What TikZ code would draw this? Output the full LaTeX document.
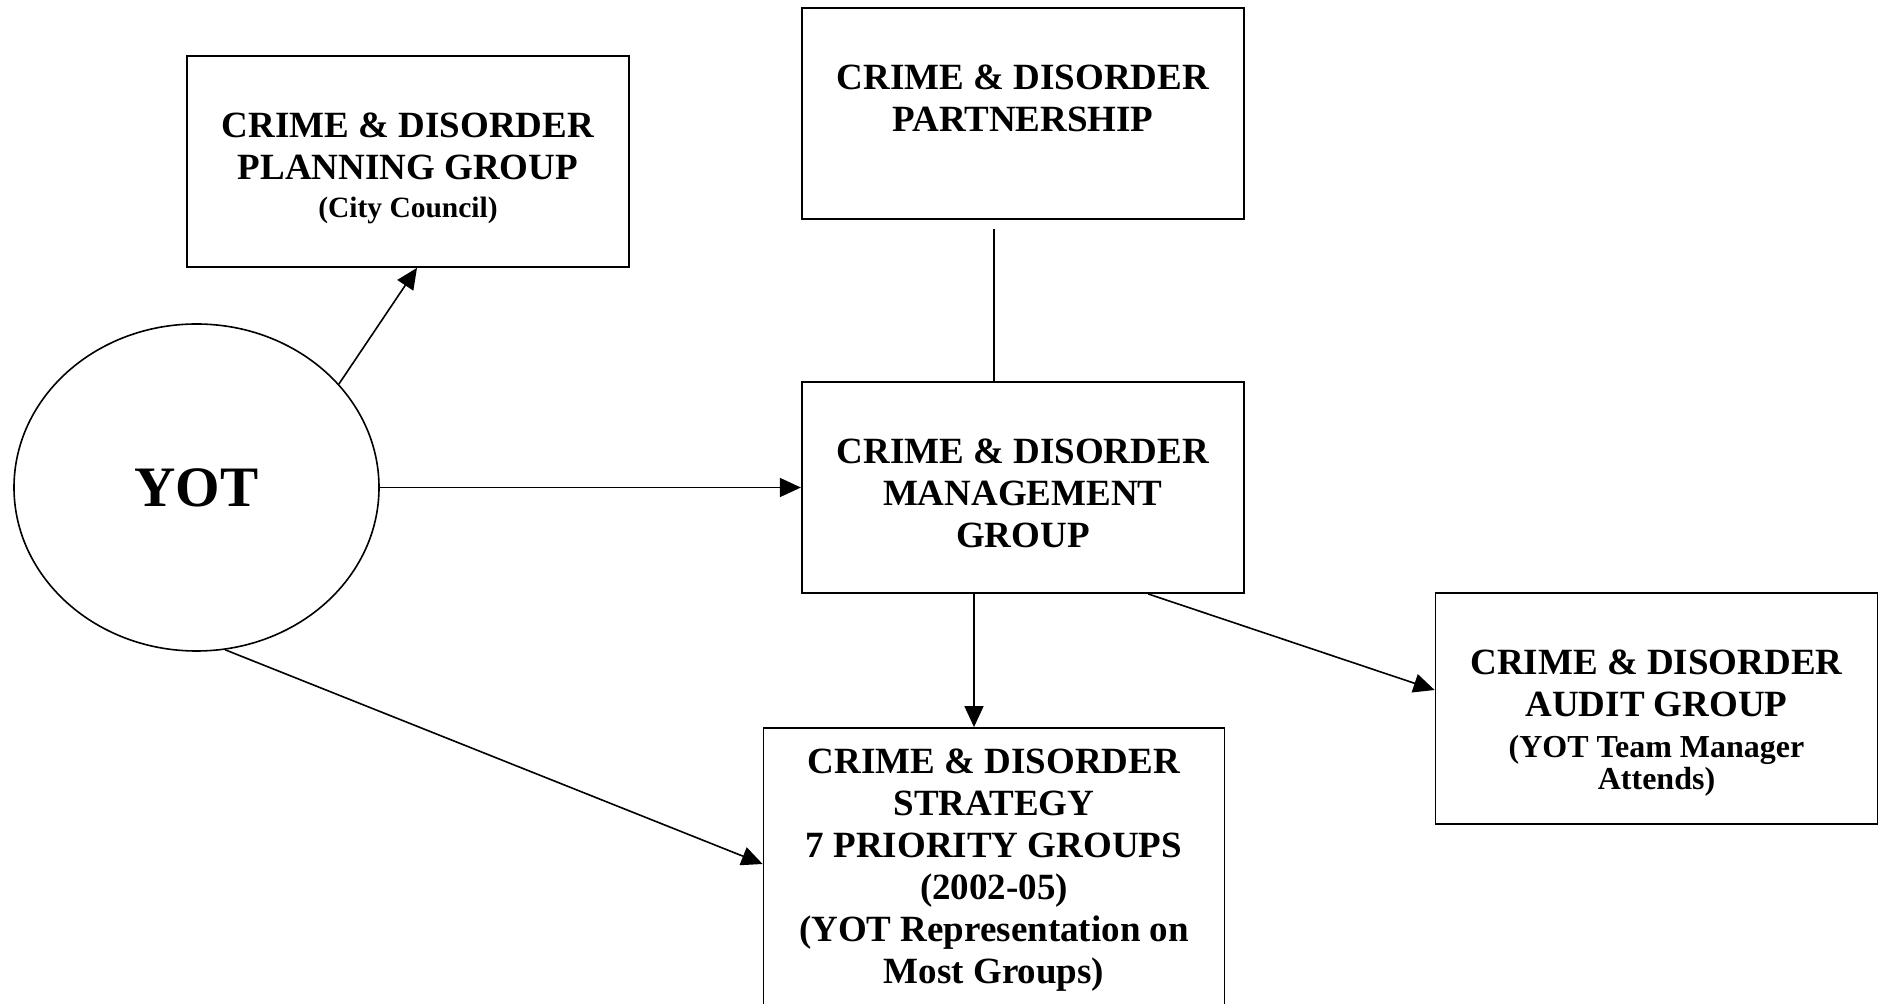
\documentclass[tikz,border=0pt]{standalone}
\usepackage{fontspec}
\setmainfont{Liberation Serif}
\usetikzlibrary{arrows.meta, positioning, shapes.geometric}
\newcommand{\notefont}{\fontsize{14.75}{16}\selectfont}
\newcommand{\auditfont}{\fontsize{16}{16}\selectfont}

\begin{document}
\begin{tikzpicture}[x=1pt, y=-1pt,
  every node/.style={font=\fontsize{18.5}{21}\selectfont\bfseries},
  box/.style={draw, line width=0.9pt, minimum width=221pt, minimum height=105.5pt, inner sep=0pt},
  boxtext/.style={align=center, inner sep=0pt},
  link/.style={line width=0.8pt, -{Triangle[length=10.5pt, width=9.5pt]}}]
  \clip (0,0) rectangle (942.5,502);

  \node[draw, ellipse, line width=0.8pt, minimum width=182.5pt, minimum height=163.5pt, inner sep=0pt,
    font=\fontsize{28.6}{32}\selectfont\bfseries] (yot) at (98.25,243.75) {YOT};

  \node[box] (plan) at (204,80.75) {};
  \node[box] (part) at (511.5,56.65) {};
  \node[box] (mgmt) at (511.4,243.75) {};
  \node[box, minimum width=230.5pt, minimum height=141pt] (strat) at (497,434.5) {};
  \node[box, minimum height=115.5pt] (audit) at (828.25,354.25) {};

  \node[boxtext, below=28.7pt of plan.north] (planText) {CRIME \& DISORDER\\ PLANNING GROUP\\[-1.8pt] {\notefont (City Council)}};
  \node[boxtext, below=28.7pt of part.north] (partText) {CRIME \& DISORDER\\ PARTNERSHIP};
  \node[boxtext, below=28.7pt of mgmt.north] (mgmtText) {CRIME \& DISORDER\\ MANAGEMENT\\ GROUP};
  \node[boxtext, below=10.8pt of strat.north] (stratText) {CRIME \& DISORDER\\ STRATEGY\\ 7 PRIORITY GROUPS\\ (2002-05)\\ (YOT Representation on\\ Most Groups)};
  \node[boxtext, below=28.7pt of audit.north] (auditText) {CRIME \& DISORDER\\ AUDIT GROUP\\[-0.5pt] {\auditfont (YOT Team Manager}\\[-5.2pt] {\auditfont Attends)}};

  \draw[link] (yot.36) -- ([xshift=4.5pt]plan.south);
  \draw[link] (yot) -- (mgmt);
  \draw[link] (yot.-80) -- ([yshift=2.5pt]strat.west);
  \draw[line width=0.8pt] ([xshift=-14.5pt, yshift=-4.7pt]part.south) -- ([xshift=-14.5pt]part.south |- mgmt.north);
  \draw[link] ([xshift=-24.4pt]mgmt.south) -- ([xshift=-24.4pt]mgmt.south |- strat.north);
  \draw[link] ([xshift=62.6pt]mgmt.south) -- ([yshift=9.25pt]audit.west);
\end{tikzpicture}
\end{document}
